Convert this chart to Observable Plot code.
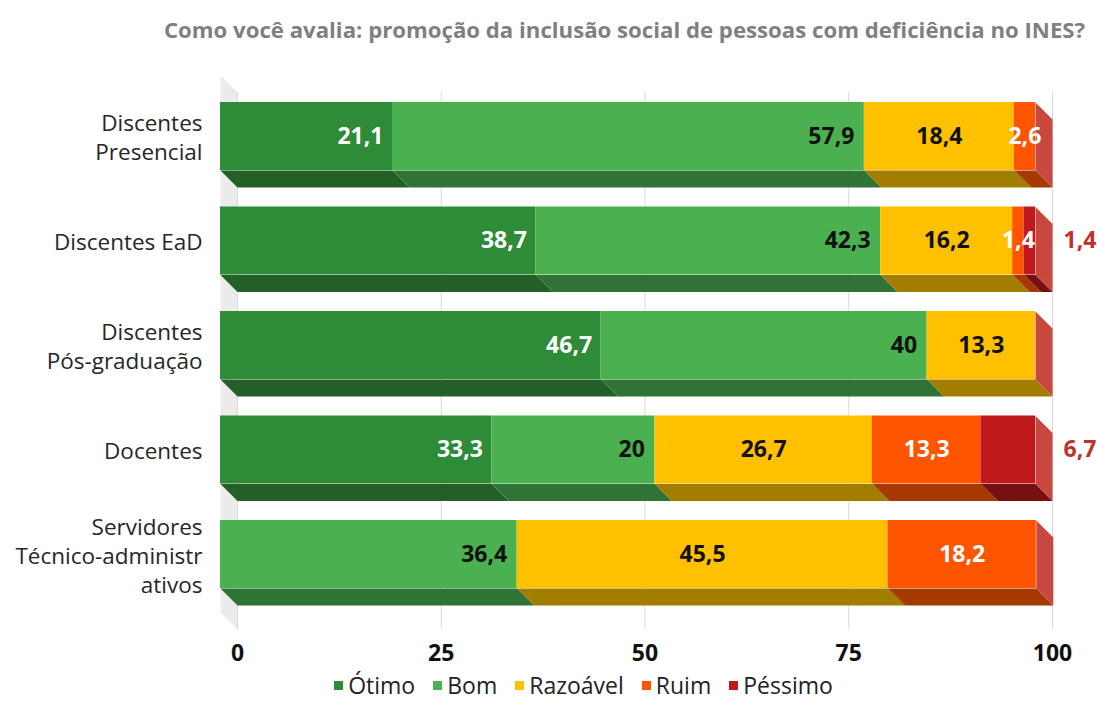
<!DOCTYPE html>
<html><head><meta charset="utf-8">
<script src="https://cdn.jsdelivr.net/npm/d3@7"></script>
<script src="https://cdn.jsdelivr.net/npm/@observablehq/plot@0.6"></script>
<style>
body{margin:0;background:#fff;font-family:"Open Sans",sans-serif;width:1097px;height:702px;overflow:hidden}
#title{height:58px;margin-left:152px;text-align:center;font-weight:700;font-size:22.2px;color:#7f7f7f;line-height:60px;white-space:nowrap}
#chart svg{display:block}
#legend{height:30px;display:flex;justify-content:center;align-items:center;font-size:23px;color:#222;margin-left:70px;margin-top:-2px}
#legend span.item{display:flex;align-items:center;margin:0 9px}
#legend span.sw{display:inline-block;width:9px;height:9px;margin-right:5px}
</style></head><body>
<div id="title">Como você avalia: promoção da inclusão social de pessoas com deficiência no INES?</div>
<div id="chart"></div>
<div id="legend"></div>
<script>
// ---- data ----
const categories = ["Discentes\nPresencial", "Discentes EaD", "Discentes\nPós-graduação", "Docentes", "Servidores\nTécnico-administr\nativos"];
const series = ["Ótimo", "Bom", "Razoável", "Ruim", "Péssimo"];
const otimo    = [21.1, 38.7, 46.7, 33.3, 0];
const bom      = [57.9, 42.3, 40,   20,   36.4];
const razoavel = [18.4, 16.2, 13.3, 26.7, 45.5];
const ruim     = [2.6,  1.4,  0,    13.3, 18.2];
const pessimo  = [0,    1.4,  0,    6.7,  0];
const ticks = [0, 25, 50, 75, 100];

// ---- styles ----
const frontColors  = ["#2e8b37", "#4bb04f", "#ffc000", "#ff5500", "#c0191b"];
const bottomColors = ["#245f28", "#2f7434", "#a37d00", "#a53a00", "#771010"];
const capColor = "#c8473f";
const pxPerUnitX = 8.15, pxPerRow = 104.5, depthPx = 17;
const dX = depthPx / pxPerUnitX, dY = depthPx / pxPerRow, h = 34 / pxPerRow;
const wallTop = -0.584, wallBottom = 4.555;

const values = [otimo, bom, razoavel, ruim, pessimo];
const segs = [], totals = [];
categories.forEach((c, i) => {
  let acc = 0;
  series.forEach((s, k) => {
    const v = values[k][i];
    segs.push({row: i, k, v, x1: acc, x2: acc + v});
    acc += v;
  });
  totals.push(acc);
});

const polys = [];
segs.filter(d => d.v > 0).forEach((d, j) => {
  const id = "b" + j, y0 = d.row + h, fill = bottomColors[d.k];
  polys.push({id, fill, x: d.x1, y: y0}, {id, fill, x: d.x2, y: y0},
             {id, fill, x: d.x2 + dX, y: y0 + dY}, {id, fill, x: d.x1 + dX, y: y0 + dY});
});
const caps = [];
totals.forEach((t, i) => {
  const id = "c" + i, fill = capColor;
  caps.push({id, fill, x: t, y: i - h}, {id, fill, x: t + dX, y: i - h + dY},
            {id, fill, x: t + dX, y: i + h + dY}, {id, fill, x: t, y: i + h});
});
const wall = [
  {x: 0, y: wallTop}, {x: dX, y: wallTop + dY}, {x: dX, y: wallBottom + dY}, {x: 0, y: wallBottom}
];
const fmt = v => String(v).replace(".", ",");
const lab = k => segs.filter(d => d.k === k && d.v > 0);
const valSize = 23;

const chart = Plot.plot({
  width: 1097, height: 614, margin: 0,
  x: {domain: [0, 100], range: [220, 1035], axis: null},
  y: {domain: [0, 4], range: [78, 496], axis: null},
  color: {type: "identity"},
  style: {fontFamily: "Open Sans, sans-serif", background: "#fff"},
  marks: [
    Plot.line(wall, {x: "x", y: "y", fill: "#ebebeb", stroke: "none", curve: "linear-closed"}),
    Plot.ruleX(ticks, {x: d => d, y1: wallTop + dY, y2: wallBottom + dY, dx: depthPx, stroke: "#d9d9d9", strokeWidth: 1}),
    Plot.line(polys, {x: "x", y: "y", z: "id", fill: "fill", stroke: "none", curve: "linear-closed"}),
    Plot.rect(segs.filter(d => d.v > 0), {x1: "x1", x2: "x2", y1: d => d.row - h, y2: d => d.row + h, fill: d => frontColors[d.k]}),
    Plot.line(caps, {x: "x", y: "y", z: "id", fill: "fill", stroke: "none", curve: "linear-closed"}),
    Plot.text(categories, {x: 0, y: (d, i) => i, text: d => d, textAnchor: "end", dx: -18, fontSize: 22.5, lineHeight: 1.29, fill: "#262626"}),
    Plot.text(ticks, {x: d => d, frameAnchor: "bottom", dy: -12, dx: depthPx, text: d => String(d), fontSize: 23, fontWeight: "bold", fill: "#111"}),
    Plot.text(lab(0), {x: "x2", y: "row", text: d => fmt(d.v), textAnchor: "end", dx: -9, fontSize: valSize, fontWeight: "bold", fill: "#fff"}),
    Plot.text(lab(1), {x: "x2", y: "row", text: d => fmt(d.v), textAnchor: "end", dx: -10, fontSize: valSize, fontWeight: "bold", fill: "#111"}),
    Plot.text(lab(2), {x: d => (d.x1 + d.x2) / 2, y: "row", text: d => fmt(d.v), fontSize: valSize, fontWeight: "bold", fill: "#111"}),
    Plot.text(lab(3), {x: d => (d.x1 + d.x2) / 2, y: "row", text: d => fmt(d.v), fontSize: valSize, fontWeight: "bold", fill: "#fff"}),
    Plot.text(lab(4), {x: d => totals[d.row], y: "row", text: d => fmt(d.v), textAnchor: "start", dx: 28, fontSize: valSize, fontWeight: "bold", fill: "#c0312b"})
  ]
});
document.getElementById("chart").appendChild(chart);

const legend = document.getElementById("legend");
series.forEach((s, k) => {
  const item = document.createElement("span");
  item.className = "item";
  item.innerHTML = `<span class="sw" style="background:${frontColors[k]}"></span>${s}`;
  legend.appendChild(item);
});
</script>
</body></html>
